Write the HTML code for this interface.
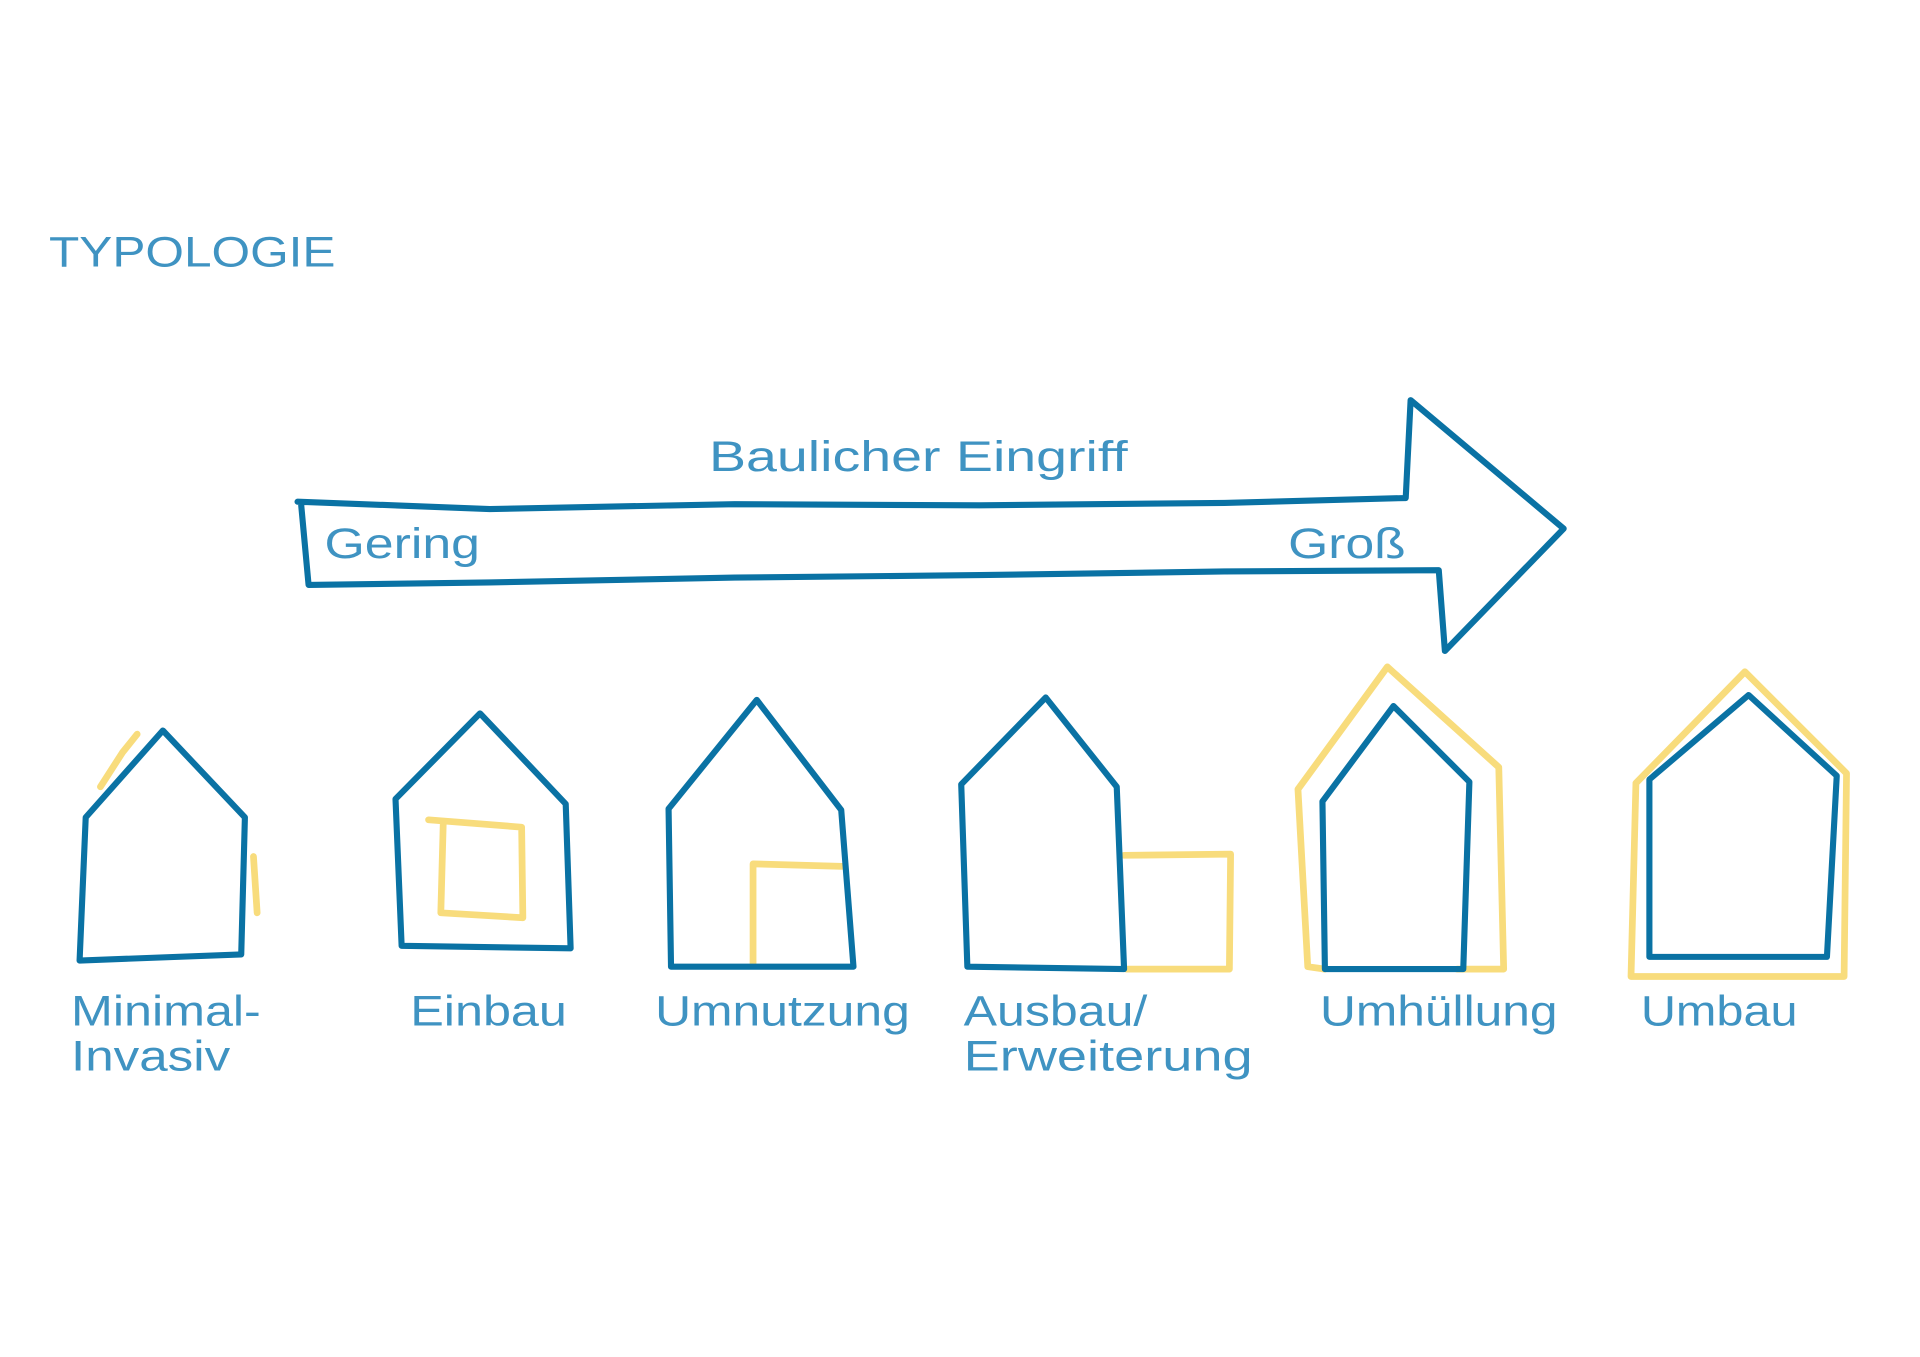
<!DOCTYPE html>
<html><head><meta charset="utf-8"><style>
html,body{margin:0;padding:0;background:#fff;width:1920px;height:1357px;overflow:hidden}
svg{display:block}
text{font-family:"Liberation Sans",sans-serif;fill:#3f93c2;font-size:35px}
.b{fill:none;stroke:#0a72a4;stroke-width:5;stroke-linejoin:round;stroke-linecap:round}
.y{fill:none;stroke:#f8dc7c;stroke-width:5.5;stroke-linejoin:round;stroke-linecap:round}
</style></head><body>
<svg width="1920" height="1357" viewBox="0 0 1568 1109" preserveAspectRatio="none" xmlns="http://www.w3.org/2000/svg">
<text x="40" y="218" font-size="33" textLength="234" lengthAdjust="spacingAndGlyphs">TYPOLOGIE</text>

<path class="b" d="M243,410 L400,416 L600,412 L800,413 L1000,411 L1148,407 L1152,327 L1277,432 L1180,532 L1175,466 L1000,467 L800,470 L600,472 L400,476 L252,478 L246,413"/>
<text x="579" y="385" textLength="342" lengthAdjust="spacingAndGlyphs">Baulicher Eingriff</text>
<text x="265" y="456" textLength="127" lengthAdjust="spacingAndGlyphs">Gering</text>
<text x="1052" y="456" textLength="96" lengthAdjust="spacingAndGlyphs">Groß</text>

<path class="y" d="M82,643 L100,615 L112,600 M207,700 L210,746"/>
<path class="b" d="M70,668 L133,597 L200,668 L197,780 L65,785 Z"/>
<path class="y" d="M350,670 L426,676 L427,750 L360,746 L362,672"/>
<path class="b" d="M323,653 L392,583 L462,657 L466,775 L328,773 Z"/>
<path class="y" d="M615,789 L615,706 L688,708"/>
<path class="b" d="M546,661 L618,572 L687,662 L697,790 L548,790 Z"/>
<path class="y" d="M918,699 L1005,698 L1004,792 L920,792"/>
<path class="b" d="M785,641 L854,570 L912,643 L918,792 L790,790 Z"/>
<path class="y" d="M1060,645 L1133,545 L1224,627 L1228,792 L1190,792 M1082,792 L1068,790 L1060,645"/>
<path class="b" d="M1080,655 L1138,577 L1200,639 L1195,792 L1082,792 Z"/>
<path class="y" d="M1336,640 L1425,549 L1508,632 L1506,798 L1332,798 Z"/>
<path class="b" d="M1347,637 L1428,568 L1500,634 L1492,782 L1347,782 Z"/>

<text x="58" y="838" textLength="155" lengthAdjust="spacingAndGlyphs">Minimal-</text>
<text x="58" y="875" textLength="130" lengthAdjust="spacingAndGlyphs">Invasiv</text>
<text x="335" y="838" textLength="128" lengthAdjust="spacingAndGlyphs">Einbau</text>
<text x="535" y="838" textLength="208" lengthAdjust="spacingAndGlyphs">Umnutzung</text>
<text x="787" y="838" textLength="150" lengthAdjust="spacingAndGlyphs">Ausbau/</text>
<text x="787" y="875" textLength="236" lengthAdjust="spacingAndGlyphs">Erweiterung</text>
<text x="1078" y="838" textLength="194" lengthAdjust="spacingAndGlyphs">Umhüllung</text>
<text x="1340" y="838" textLength="128" lengthAdjust="spacingAndGlyphs">Umbau</text>
</svg>
</body></html>
